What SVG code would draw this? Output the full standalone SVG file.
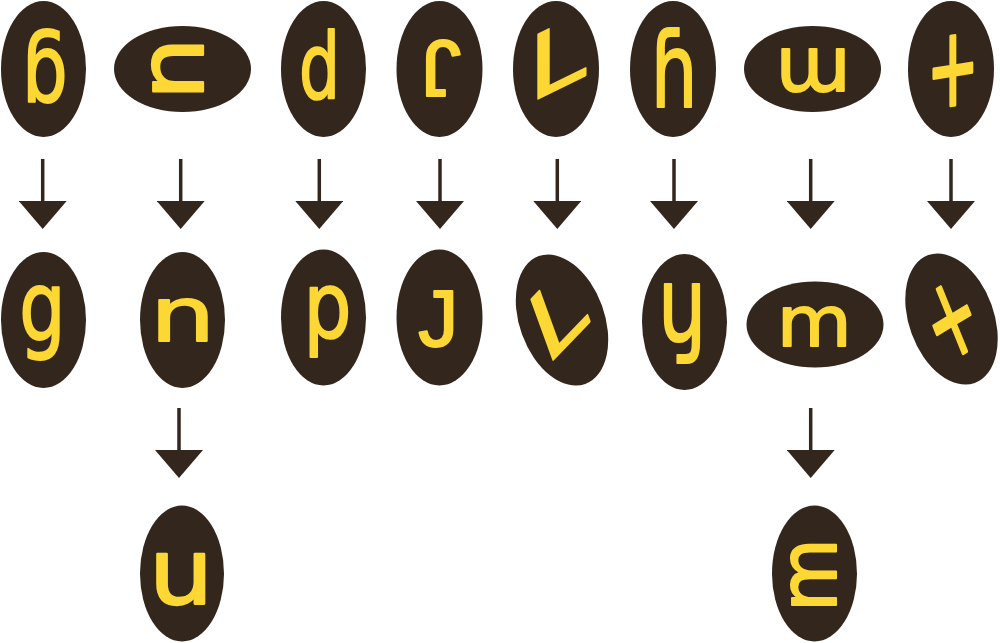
<svg xmlns="http://www.w3.org/2000/svg" width="1000" height="643" viewBox="0 0 1000 643">
<defs>
<style>
.bg{fill:#fff}
.e{fill:#33261d}
.gl{font-family:"DejaVu Sans","Liberation Sans",sans-serif;fill:#fdd733;stroke:#fdd733;stroke-width:2;stroke-linejoin:round;text-anchor:middle}
.gj{font-family:"Liberation Sans",Arial,sans-serif}
.st{text-anchor:start}
.c{stroke:#33261d;stroke-width:3.5;fill:none;marker-end:url(#ah)}
</style>
<marker id="ah" markerUnits="userSpaceOnUse" viewBox="0 -24 28 48" refX="0" refY="0" markerWidth="28" markerHeight="48" orient="auto">
<path d="M0,-24 L28,0 L0,24 Z" fill="#33261d"/>
</marker>
</defs>
<rect class="bg" x="0" y="0" width="1000" height="643"/>
<g id="connectors">
<line class="c" x1="42.7" y1="159" x2="42.7" y2="201"/>
<line class="c" x1="180.7" y1="159" x2="180.7" y2="201"/>
<line class="c" x1="319.3" y1="159" x2="319.3" y2="201"/>
<line class="c" x1="440" y1="159" x2="440" y2="201"/>
<line class="c" x1="557.3" y1="159" x2="557.3" y2="201"/>
<line class="c" x1="674" y1="159" x2="674" y2="201"/>
<line class="c" x1="810.7" y1="159" x2="810.7" y2="201"/>
<line class="c" x1="951" y1="159" x2="951" y2="201"/>
<line class="c" x1="179" y1="408" x2="179" y2="450"/>
<line class="c" x1="810.7" y1="408" x2="810.7" y2="450"/>
</g>
<g id="n1a"><ellipse class="e" cx="43.5" cy="69" rx="42.5" ry="68"/><text class="gl" font-size="96" transform="translate(46.3,65.8) rotate(180) scale(0.75,1) translate(1.7,16.9)">g</text></g>
<g id="n2a"><ellipse class="e" cx="182.5" cy="69" rx="68.5" ry="43"/><text class="gl" font-size="80" transform="translate(177.8,68.7) rotate(-90) scale(1.24,1.127) translate(0,22.4)">n</text></g>
<g id="n3a"><ellipse class="e" cx="323.5" cy="69" rx="42.5" ry="68"/><text class="gl" font-size="91" transform="translate(318.3,64.5) scale(0.71,1) translate(1.6,33.9)">d</text></g>
<g id="n4a"><ellipse class="e" cx="439.5" cy="69" rx="43" ry="68"/><text class="gl gj" font-size="80" transform="translate(443.8,69.2) rotate(180) translate(2.8,28.2)">J</text></g>
<g id="n5a"><ellipse class="e" cx="556" cy="69" rx="43" ry="68"/><text class="gl st" font-size="96" transform="translate(528.3,103.5) skewY(-26) scale(1.08,0.92)">L</text></g>
<g id="n6a"><ellipse class="e" cx="673" cy="69" rx="43" ry="68"/><text class="gl" font-size="104" transform="translate(674.2,67.2) scale(0.71,1) translate(0,40.1)">ɦ</text></g>
<g id="n7a"><ellipse class="e" cx="812.5" cy="69" rx="68.5" ry="43"/><text class="gl" font-size="77" transform="translate(813.3,70.8) rotate(180) translate(0,21.6)">m</text></g>
<g id="n8a"><ellipse class="e" cx="951" cy="69" rx="43" ry="68"/><text class="gl" font-size="70" transform="translate(952.8,69.7) skewY(-9) scale(0.89,1.58) translate(0,22.5)">+</text></g>
<g id="n1b"><ellipse class="e" cx="43.5" cy="320" rx="42.5" ry="68"/><text class="gl" font-size="96" transform="translate(41,322.9) scale(0.76,1) translate(1.7,16.9)">g</text></g>
<g id="n2b"><ellipse class="e" cx="182.5" cy="320" rx="42.5" ry="68"/><text class="gl" font-size="80" transform="translate(182.8,320.3) scale(1.28,0.94) translate(0,22.4)">n</text></g>
<g id="n3b"><ellipse class="e" cx="323.5" cy="317.5" rx="42.5" ry="68"/><text class="gl" font-size="91" transform="translate(328.8,321.7) rotate(180) scale(0.83,1) translate(1.6,33.9)">d</text></g>
<g id="n4b"><ellipse class="e" cx="439.5" cy="317.5" rx="43" ry="68"/><text class="gl gj" font-size="80" transform="translate(435.5,317.5) translate(2.8,28.2)">J</text></g>
<g id="n5b"><ellipse class="e" cx="0" cy="0" rx="42.5" ry="68" transform="translate(562,320) rotate(-20)"/><text class="gl st" font-size="96" transform="translate(564.5,321.7) rotate(-20) translate(-562,-66.7) translate(528.3,103.5) skewY(-26) scale(1.08,0.92)">L</text></g>
<g id="n6b"><ellipse class="e" cx="684.5" cy="322" rx="42.5" ry="68"/><text class="gl" font-size="104" transform="translate(682.3,323.9) rotate(180) scale(0.73,1) translate(0,40.1)">ɦ</text></g>
<g id="n7b"><ellipse class="e" cx="815" cy="324.5" rx="68.5" ry="43"/><text class="gl" font-size="77" transform="translate(814.2,326.2) scale(1,0.9) translate(0,21.6)">m</text></g>
<g id="n8b"><ellipse class="e" cx="0" cy="0" rx="42.5" ry="68" transform="translate(951.5,319) rotate(-20)"/><text class="gl" font-size="70" transform="translate(951.7,319.5) rotate(-22) skewY(-9) scale(0.89,1.58) translate(0,22.5)">+</text></g>
<g id="n2c"><ellipse class="e" cx="182" cy="573.5" rx="42" ry="68"/><text class="gl" font-size="80" transform="translate(181,579) rotate(180) scale(1.27,1.13) translate(0,22.4)">n</text></g>
<g id="n7c"><ellipse class="e" cx="814.5" cy="573.5" rx="42.5" ry="68"/><text class="gl" font-size="77" transform="translate(813.5,575) rotate(-90) scale(0.98,1.04) translate(0,21.6)">m</text></g>
</svg>
